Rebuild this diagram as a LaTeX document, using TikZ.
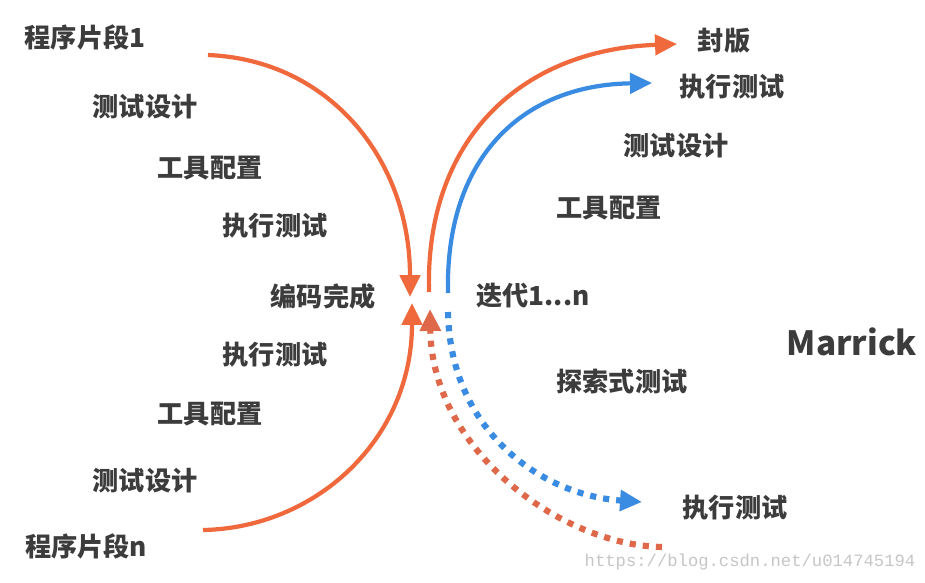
\documentclass[tikz,border=0pt]{standalone}
\usepackage{fontspec}
\newfontfamily\cjk{Noto Sans CJK SC}
\newfontfamily\wmfont{Liberation Mono}
\usetikzlibrary{arrows.meta, positioning, calc}

\definecolor{orng}{HTML}{F0693C}
\definecolor{dorng}{HTML}{E0684A}
\definecolor{blu}{HTML}{3A8BE2}
\definecolor{txtgray}{HTML}{3C3C3C}

\begin{document}
\begin{tikzpicture}[
  x=0.02cm, y=-0.02cm,
  stage/.style={font=\cjk\bfseries\fontsize{14.9}{18}\selectfont, text=txtgray, inner sep=0pt},
  brand/.style={font=\cjk\bfseries\fontsize{19}{22}\selectfont, text=txtgray, inner sep=0pt},
  wmark/.style={font=\wmfont\fontsize{9.8}{11}\selectfont, text=gray!45, inner sep=0pt},
  flow/.style={draw, line width=2.4pt, -{Triangle[length=12.5pt, width=11.5pt]}},
  dotflow/.style={flow, line width=3.5pt, dash pattern=on 3.5pt off 4pt}
]

%% 画布
\useasboundingbox[fill=white] (0,0) rectangle (925,582);

%% 左侧：程序片段
\node[stage] (seg1)  at (85,37)   {程序片段1};
\node[stage] (dsgA)  at (145,107) {测试设计};
\node[stage] (toolA) at (210,168) {工具配置};
\node[stage] (runA)  at (275,226) {执行测试};
\node[stage] (done)  at (323,297) {编码完成};
\node[stage] (runB)  at (275,355) {执行测试};
\node[stage] (toolB) at (210,414) {工具配置};
\node[stage] (dsgB)  at (145,481) {测试设计};
\node[stage] (segn)  at (86,546)  {程序片段n};

%% 右侧：迭代
\node[stage] (seal)  at (724,41)  {封版};
\node[stage] (runC)  at (732,87)  {执行测试};
\node[stage] (dsgC)  at (676,146) {测试设计};
\node[stage] (toolC) at (609,208) {工具配置};
\node[stage] (iter)  at (533,296) {迭代1...n};
\node[stage] (expl)  at (622,382) {探索式测试};
\node[stage] (runD)  at (735,508) {执行测试};
\node[brand] (marrick) at (852,342) {Marrick};
\node[wmark] (url) at (750,562) {https://blog.csdn.net/u014745194};

%% 箭头端点
\coordinate (s1)   at (208,55);
\coordinate (sn)   at (203,530);
\coordinate (hubA) at (410,297);
\coordinate (hubB) at (412,303);
\coordinate (upR)  at (430,309);
\coordinate (oR)   at (429,292);
\coordinate (bR)   at (448,293);
\coordinate (bD)   at (448,312);
\coordinate (oEnd) at (662,547);
\coordinate (sealT) at (677,44);
\coordinate (runT)  at (652,83);
\coordinate (runDT) at (642,502);

%% 左侧两条汇合
\draw[flow, orng] (s1) .. controls (330,60) and (410,160) .. (hubA);
\draw[flow, orng] (sn) .. controls (315,528) and (412,440) .. (hubB);

%% 右侧上行（实线）
\draw[flow, orng] (oR) .. controls (425,140) and (520,50) .. (sealT);
\draw[flow, blu]  (bR) .. controls (445,160) and (520,85) .. (runT);

%% 右侧下行（点线）
\draw[dotflow, blu]   (bD) .. controls (450,430) and (540,495) .. (runDT);
\draw[dotflow, dorng] (oEnd) .. controls (560,545) and (432,450) .. (upR);

\end{tikzpicture}
\end{document}
